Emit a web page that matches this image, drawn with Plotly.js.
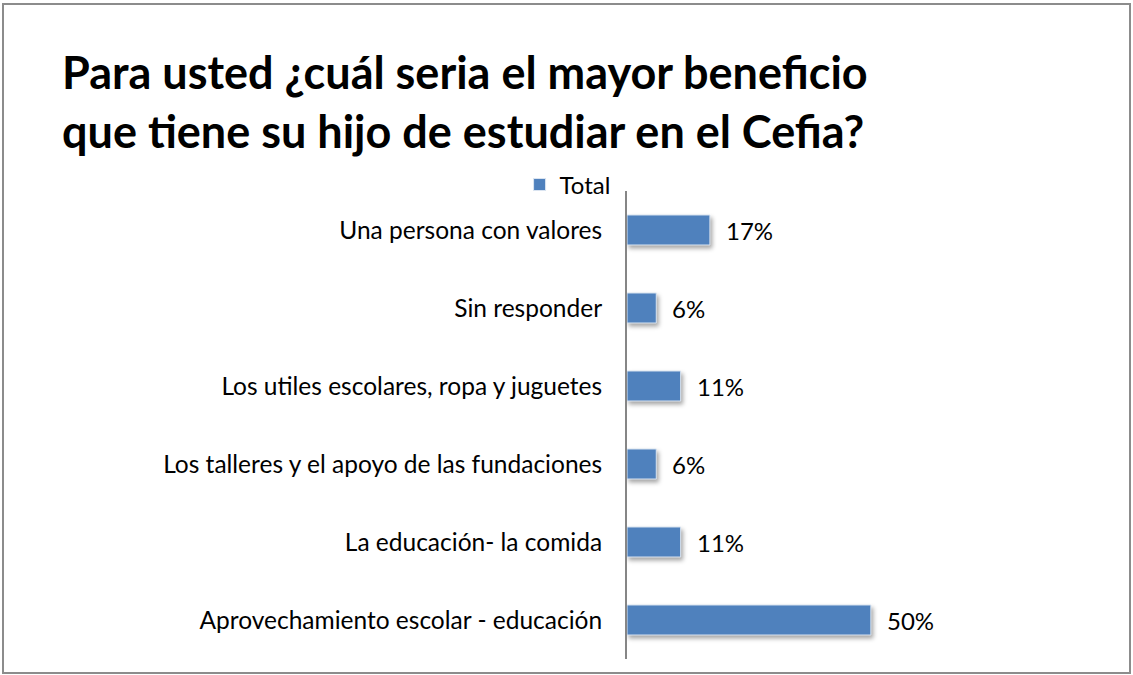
<!DOCTYPE html>
<html>
<head>
<meta charset="utf-8">
<script src="https://cdn.plot.ly/plotly-3.0.1.min.js"></script>
<style>
  html, body { margin: 0; padding: 0; background: #fff; }
  #chart { width: 1133px; height: 675px; }
  #frame { position: absolute; left: 2px; top: 3px; width: 1125px; height: 667px;
           border: 2px solid #8c8c8c; pointer-events: none; }
  #chart .trace.bars .point path { filter: drop-shadow(2px 3px 2px rgba(0,0,0,0.35)); }
</style>
</head>
<body>
<div id="chart"></div>
<div id="frame"></div>
<script>
const categories = [
  "Aprovechamiento escolar - educación",
  "La educación- la comida",
  "Los talleres y el apoyo de las fundaciones",
  "Los utiles escolares, ropa y juguetes",
  "Sin responder",
  "Una persona con valores"
];
const values = [0.50, 0.11, 0.06, 0.11, 0.06, 0.17];
const valueLabels = ["50%", "11%", "6%", "11%", "6%", "17%"];
const seriesName = "Total";
const titleLines = ["Para usted ¿cuál seria el mayor beneficio", "que tiene su hijo de estudiar en el Cefia?"];

const FONT = "Lato, 'Open Sans', sans-serif";

const trace = {
  type: "bar",
  orientation: "h",
  name: seriesName,
  y: categories,
  x: values,
  marker: { color: "#4f81bd", line: { color: "#dbe5f1", width: 1 } },
  width: 0.385
};

const annotations = values.map((v, i) => ({
  x: v, y: categories[i], xref: "x", yref: "y",
  text: valueLabels[i], showarrow: false,
  xanchor: "left", yanchor: "middle", xshift: 14,
  font: { family: FONT, size: 24, color: "#000" }
}));

const layout = {
  width: 1133,
  height: 675,
  margin: { l: 627, r: 67, t: 191, b: 16 },
  paper_bgcolor: "#fff",
  plot_bgcolor: "#fff",
  showlegend: true,
  legend: {
    orientation: "h",
    x: -0.026, xanchor: "right", y: 1.013, yanchor: "middle",
    font: { family: FONT, size: 24, color: "#000" },
    itemwidth: 30
  },
  title: {
    text: titleLines.join("<br>"),
    x: 62 / 1133, xanchor: "left", xref: "container",
    y: 0.868, yanchor: "top", yref: "container",
    font: { family: FONT, size: 45, color: "#000", weight: "bold" }
  },
  annotations: annotations,
  xaxis: {
    range: [0, 0.9],
    showgrid: false, zeroline: false, showline: false,
    showticklabels: false, ticks: ""
  },
  yaxis: {
    type: "category",
    categoryorder: "array",
    categoryarray: categories,
    range: [-0.5, 5.5],
    showgrid: false, zeroline: false,
    showline: true, linecolor: "#868686", linewidth: 2,
    ticks: "", ticklen: 0,
    ticklabelstandoff: 18,
    tickfont: { family: FONT, size: 24.5, color: "#000" },
    automargin: false
  }
};

Plotly.newPlot("chart", [trace], layout, { displayModeBar: false, staticPlot: true });
</script>
</body>
</html>
